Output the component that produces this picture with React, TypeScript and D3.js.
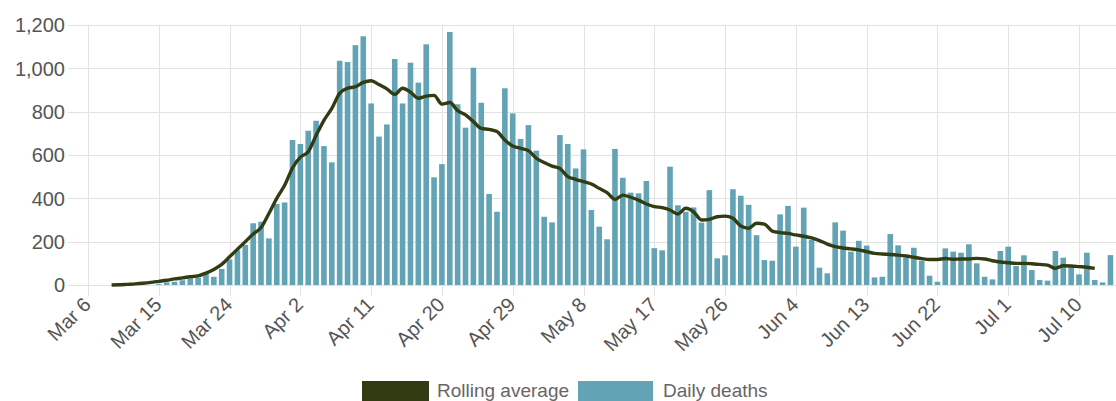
import React, { useEffect, useRef } from 'react'
import * as d3 from 'd3'

// daily values start Mar 6, rolling average starts Mar 9
const startDay = new Date(2020, 2, 6)
const avgStartDay = new Date(2020, 2, 9)

const dailyDeaths = [
  0, 0, 0, 0, 0, 0, 0, 0, 0, 4,
  12, 15, 22, 30, 34, 57, 38, 74, 118, 160,
  185, 285, 292, 215, 374, 381, 669, 651, 712, 758,
  641, 566, 1035, 1029, 1107, 1148, 838, 685, 741, 1043,
  838, 1026, 934, 1111, 497, 558, 1168, 834, 726, 1003,
  841, 420, 338, 908, 792, 674, 738, 620, 315, 289,
  692, 651, 538, 626, 346, 269, 211, 628, 495, 426,
  423, 480, 170, 160, 546, 368, 338, 358, 288, 438,
  123, 137, 442, 412, 370, 230, 115, 112, 326, 365,
  177, 357, 208, 80, 54, 289, 251, 154, 204, 182,
  35, 38, 235, 183, 126, 172, 112, 43, 15, 169,
  154, 149, 188, 100, 38, 26, 157, 177, 88, 137,
  69, 23, 20, 157, 126, 82, 49, 149, 23, 12,
  138,
]

const rollingAverage = [
  0, 1, 3, 5, 8, 12, 17, 22, 28, 33,
  38, 42, 55, 72, 95, 130, 165, 200, 235, 265,
  330, 400, 460, 540, 590, 615, 690, 760, 815, 885,
  908, 915, 935, 943, 925, 905, 880, 908, 890, 862,
  872, 875, 835, 842, 805, 785, 754, 723, 718, 708,
  669, 641, 631, 620, 585, 565, 549, 538, 500, 488,
  477, 466, 446, 426, 395, 415, 405, 392, 374, 362,
  357, 346, 328, 354, 338, 300, 303, 315, 318, 308,
  272, 262, 285, 281, 249, 242, 238, 231, 225, 217,
  205, 189, 177, 171, 167, 162, 154, 146, 143, 141,
  138, 134, 128, 122, 118, 118, 122, 119, 120, 120,
  123, 120, 112, 106, 103, 100, 100, 98, 95, 92,
  77, 89, 88, 85, 82, 77,
]

const xTickLabels = ['Mar 6', 'Mar 15', 'Mar 24', 'Apr 2', 'Apr 11', 'Apr 20', 'Apr 29', 'May 8',
  'May 17', 'May 26', 'Jun 4', 'Jun 13', 'Jun 22', 'Jul 1', 'Jul 10']
const yTicks = [0, 200, 400, 600, 800, 1000, 1200]

const W = 1116
const H = 401
const barColor = '#62a4b5'
const lineColor = '#323c13'
const font = 'Arial, "Liberation Sans", sans-serif'

export default function App() {
  const ref = useRef<SVGSVGElement>(null)

  useEffect(() => {
    const svg = d3.select(ref.current)
    svg.selectAll('*').remove()

    const x = d3.scaleTime()
      .domain([startDay, d3.timeDay.offset(startDay, 126)])
      .range([88, 1079])
    const y = d3.scaleLinear().domain([0, 1200]).range([285, 25])

    const tickDates = xTickLabels.map((_, i) => d3.timeDay.offset(startDay, i * 9))

    // horizontal grid
    svg.append('g').selectAll('line')
      .data(yTicks)
      .enter().append('line')
      .attr('x1', 68).attr('x2', W)
      .attr('y1', d => Math.round(y(d)) + 0.5).attr('y2', d => Math.round(y(d)) + 0.5)
      .attr('stroke', '#e2e2e2')

    // vertical grid + ticks
    svg.append('g').selectAll('line')
      .data(tickDates)
      .enter().append('line')
      .attr('x1', d => Math.round(x(d)) + 0.5).attr('x2', d => Math.round(x(d)) + 0.5)
      .attr('y1', y(1200)).attr('y2', 296)
      .attr('stroke', '#e2e2e2')

    svg.append('g').selectAll('text')
      .data(yTicks)
      .enter().append('text')
      .attr('x', 65).attr('y', d => y(d))
      .attr('dy', '0.36em')
      .attr('text-anchor', 'end')
      .attr('font-family', font).attr('font-size', 20).attr('fill', '#555')
      .text(d => d3.format(',')(d))

    svg.append('g').selectAll('text')
      .data(tickDates)
      .enter().append('text')
      .attr('transform', d => `translate(${x(d) + 4},${306}) rotate(-45)`)
      .attr('text-anchor', 'end')
      .attr('font-family', font).attr('font-size', 20).attr('fill', '#555')
      .text((d, i) => xTickLabels[i])

    // bars
    const bw = 5.6
    svg.append('g').selectAll('rect')
      .data(dailyDeaths)
      .enter().append('rect')
      .attr('x', (d, i) => x(d3.timeDay.offset(startDay, i)) - bw / 2)
      .attr('y', d => y(d))
      .attr('width', bw)
      .attr('height', d => y(0) - y(d))
      .attr('fill', barColor)

    // rolling average
    const line = d3.line<number>()
      .x((d, i) => x(d3.timeDay.offset(avgStartDay, i)))
      .y(d => y(d))
      .curve(d3.curveMonotoneX)
    svg.append('path')
      .datum(rollingAverage)
      .attr('d', line)
      .attr('fill', 'none')
      .attr('stroke', lineColor)
      .attr('stroke-width', 3.4)
      .attr('stroke-linejoin', 'round')

    // legend
    const lg = svg.append('g').attr('font-family', font).attr('font-size', 19).attr('fill', '#666')
    lg.append('rect').attr('x', 362).attr('y', 381).attr('width', 67).attr('height', 24).attr('fill', lineColor)
    lg.append('text').attr('x', 437).attr('y', 397).text('Rolling average')
    lg.append('rect').attr('x', 578).attr('y', 381).attr('width', 75).attr('height', 24).attr('fill', barColor)
    lg.append('text').attr('x', 663).attr('y', 397).text('Daily deaths')
  }, [])

  return (
    <div style={{ position: 'absolute', left: 0, top: 0 }}>
      <svg ref={ref} width={W} height={H} style={{ display: 'block', background: '#fff' }} />
    </div>
  )
}
